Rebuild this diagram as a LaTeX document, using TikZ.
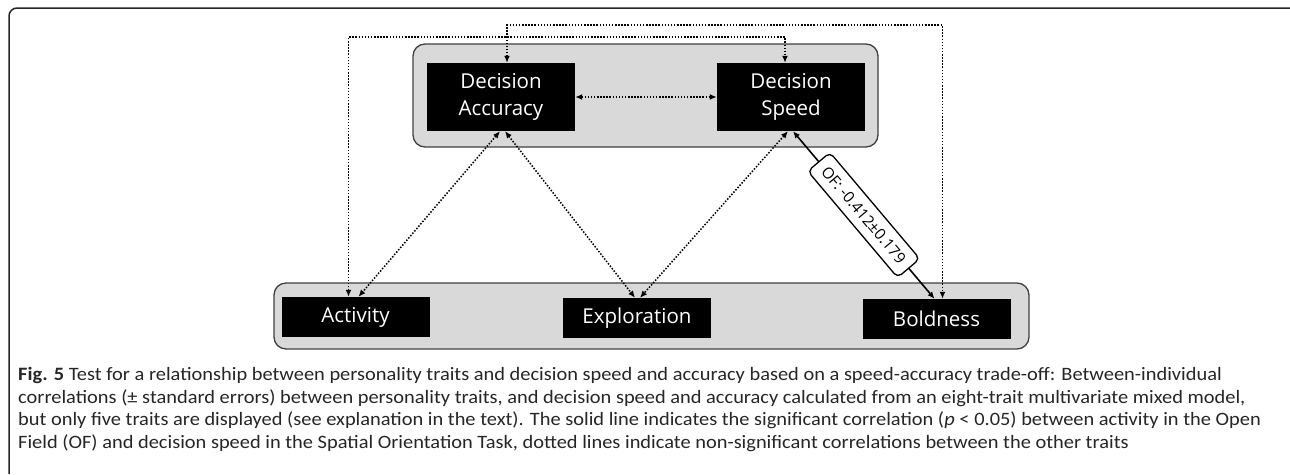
\documentclass[tikz,border=0pt]{standalone}
\usepackage{fontspec}
\setmainfont{Carlito}
\newfontfamily\boxfont{Open Sans}
\newfontfamily\capfont{Carlito}[FakeStretch=1.08]
\usetikzlibrary{arrows.meta}

\begin{document}
\begin{tikzpicture}[x=1pt,y=-1pt,
    group/.style ={draw=black!75, fill=black!15, line width=1.3pt, rounded corners=12pt, inner sep=0pt},
    trait/.style ={fill=black, text=white, inner sep=0pt, minimum width=148pt, align=center, font=\boxfont\fontsize{20.5}{27.5}\selectfont},
    corr/.style ={line width=1.5pt, dash pattern=on 1.5pt off 1.6pt, {Latex[length=7pt,width=6pt]}-{Latex[length=7pt,width=6pt]}},
    signif/.style ={line width=1.6pt, {Latex[length=7pt,width=6pt]}-{Latex[length=7pt,width=6pt]}},
    caption/.style ={anchor=base west, inner sep=0pt, text=black!85, font=\capfont\fontsize{18.9}{22}\selectfont}]
   \useasboundingbox (0,0) rectangle (1290,474);
   \draw[line width=1.5pt, black!85, rounded corners=8pt] (9,474) -- (9,8) -- (1290,8);
   % groups
   \node[group, minimum width=465pt, minimum height=103pt] (decgrp)  at (645.5,95.5)  {};
   \node[group, minimum width=755pt, minimum height=66pt]  (persgrp) at (651.5,316)  {};
   % traits
   \node[trait, minimum height=68pt] (acc)  at (501,97)  {Decision\\Accuracy};
   \node[trait, minimum height=68pt] (spd)  at (791,97)  {Decision\\Speed};
   \node[trait, minimum height=40pt] (act)  at (355.5,317)  {Activity};
   \node[trait, minimum height=40pt] (expl) at (637,318)  {Exploration};
   \node[trait, minimum height=40pt] (bold) at (936.5,319)  {Boldness};
   % rails of the long links
   \coordinate (railA) at (0,37);
   \coordinate (railB) at (0,25);
   \coordinate (spdTop)  at ([xshift=-6pt]spd.north);
   \coordinate (boldTop) at ([xshift=6pt]bold.north);
   \draw[corr] (acc.east) -- (spd.west);
   \draw[corr] ([xshift=-1pt]acc.south) -- ([xshift=3pt]act.north);
   \draw[corr] ([xshift=4pt]acc.south) -- ([xshift=-2pt]expl.north);
   \draw[corr] ([xshift=-3pt]spd.south) -- ([xshift=3pt]expl.north);
   \draw[corr] ([xshift=-7pt]act.north) |- (spdTop |- railA) -- (spdTop);
   \draw[corr] ([xshift=6pt]acc.north) |- (boldTop |- railB) -- (boldTop);
   \draw[signif] ([xshift=2pt]spd.south) -- node[midway, sloped, draw, fill=white, line width=1.3pt, rounded corners=5pt,
        inner xsep=9pt, minimum height=29pt, font=\boxfont\fontsize{15.5}{18}\selectfont] (ofcorr) {OF: -0.412±0.179} ([xshift=-2pt]bold.north);
   % caption
   \node[caption] (cap1) at (18,380.5) {\textbf{Fig. 5} Test for a relationship between personality traits and decision speed and accuracy based on a speed-accuracy trade-off: Between-individual};
   \node[caption] (cap2) at (18,403) {correlations (± standard errors) between personality traits, and decision speed and accuracy calculated from an eight-trait multivariate mixed model,};
   \node[caption] (cap3) at (18,425.5) {but only five traits are displayed (see explanation in the text). The solid line indicates the significant correlation (\textit{p} < 0.05) between activity in the Open};
   \node[caption] (cap4) at (18,448) {Field (OF) and decision speed in the Spatial Orientation Task, dotted lines indicate non-significant correlations between the other traits};
\end{tikzpicture}
\end{document}
